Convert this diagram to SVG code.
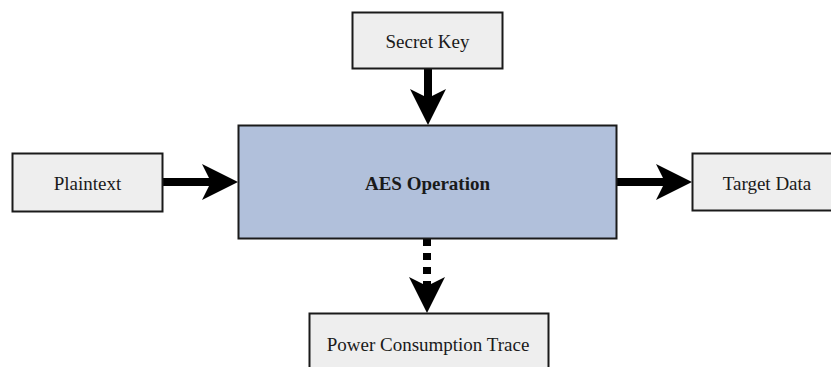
<svg xmlns="http://www.w3.org/2000/svg" width="831" height="367" viewBox="0 0 831 367">
<style>
.box{fill:#eeeeee;stroke:#1a1a1a;stroke-width:2}
.main{fill:#b1c0db;stroke:#1a1a1a;stroke-width:2}
.lbl{font-family:'Liberation Serif','Times New Roman',serif;font-size:19px;fill:#1a1a1a;text-anchor:middle;dominant-baseline:central}
.bold{font-weight:bold}
.conn{stroke:#000;stroke-width:8;fill:none;marker-end:url(#arr)}
.dash{stroke-dasharray:7 7}
</style>
<defs>
<marker id="arr" viewBox="0 0 36 36" refX="9" refY="18" markerWidth="36" markerHeight="36" markerUnits="userSpaceOnUse" orient="auto">
<path d="M0,0 L36,18 L0,36 L9,18 Z" fill="#000"/>
</marker>
</defs>
<g id="connectors">
<line class="conn" x1="428" y1="68" x2="428" y2="98"/>
<line class="conn" x1="163" y1="182" x2="211" y2="182"/>
<line class="conn" x1="617" y1="182" x2="665" y2="182"/>
<line class="conn dash" x1="427" y1="239" x2="427" y2="286"/>
</g>
<g id="secret-key">
<rect class="box" x="352.5" y="12.5" width="150" height="56"/>
<text class="lbl" x="427.5" y="41">Secret Key</text>
</g>
<g id="plaintext">
<rect class="box" x="12.5" y="153.5" width="150" height="58"/>
<text class="lbl" x="87.5" y="183">Plaintext</text>
</g>
<g id="aes-operation">
<rect class="main" x="238.5" y="125.5" width="378" height="113"/>
<text class="lbl bold" x="427.5" y="183">AES Operation</text>
</g>
<g id="target-data">
<rect class="box" x="692.5" y="153.5" width="150" height="57"/>
<text class="lbl" x="767" y="183">Target Data</text>
</g>
<g id="power-trace">
<rect class="box" x="309.5" y="313.5" width="239" height="60"/>
<text class="lbl" x="428" y="344">Power Consumption Trace</text>
</g>
</svg>
